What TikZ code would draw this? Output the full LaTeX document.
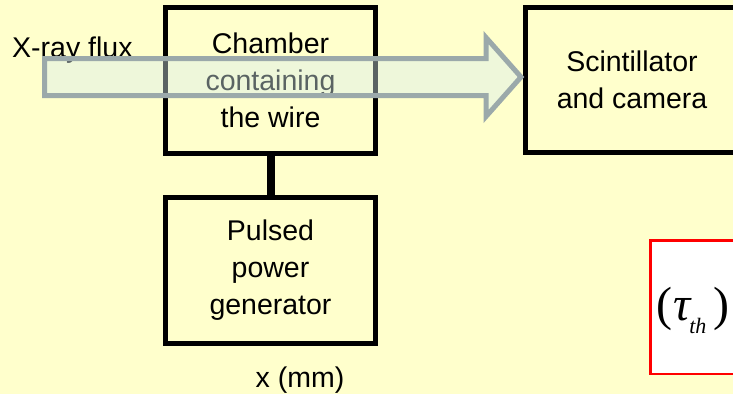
\documentclass[tikz,border=0pt]{standalone}
\usepackage{fontspec}
\setmainfont{Liberation Sans}
\newfontfamily\serifm{Liberation Serif}
\definecolor{bgy}{RGB}{255,255,204}
\definecolor{arrowgray}{RGB}{155,169,170}
\definecolor{arrowfill}{RGB}{215,238,238}
\begin{document}
\begin{tikzpicture}[x=1pt,y=-1pt,
  box/.style={draw=black, line width=5pt, fill=bgy, inner sep=0pt,
    font=\fontsize{28.5}{37}\selectfont, align=center},
  lbl/.style={font=\fontsize{28.5}{37}\selectfont, inner sep=0pt},
  redbox/.style={draw=red, line width=2.5pt, fill=white},
  fluxarrow/.style={draw=arrowgray, line width=5pt, fill=arrowfill,
    fill opacity=0.42, line join=miter},
  link/.style={draw=black, line width=8pt}]
\fill[bgy] (0,0) rectangle (733,394);
\useasboundingbox (0,0) rectangle (733,394);

\node[box, minimum width=210pt, minimum height=146pt] (chamber) at (270.5,80.5)
  {Chamber\\containing\\the wire};
\node[box, minimum width=210pt, minimum height=145.5pt] (pulsed) at (270.5,270.3)
  {Pulsed\\power\\generator};
\draw[link] (chamber.south) -- (pulsed.north);

\node[box, minimum width=213pt, minimum height=145pt] (scint) at (632,80)
  {Scintillator\\and camera};

\node[redbox, anchor=north west, minimum width=130pt, minimum height=133.5pt] (red) at (649,239) {};
\node[anchor=base west, inner sep=0pt] (tau) at (656,320)
  {\serifm\fontsize{48}{52}\selectfont (\hspace{1pt}{\itshape τ}\hspace{-1pt}\raisebox{-13pt}{\fontsize{22}{22}\selectfont\itshape th}\hspace{7pt})};

\node[lbl, anchor=base] (xmm) at (300,387) {x (mm)};
\node[lbl, anchor=base west] (flux) at (12,57.5) {X-ray flux};

\draw[fluxarrow] (44.5,58.5) -- (486,58.5) -- (486,37.5) -- (521,77)
  -- (486,116.5) -- (486,95.5) -- (44.5,95.5) -- cycle;
\end{tikzpicture}
\end{document}
